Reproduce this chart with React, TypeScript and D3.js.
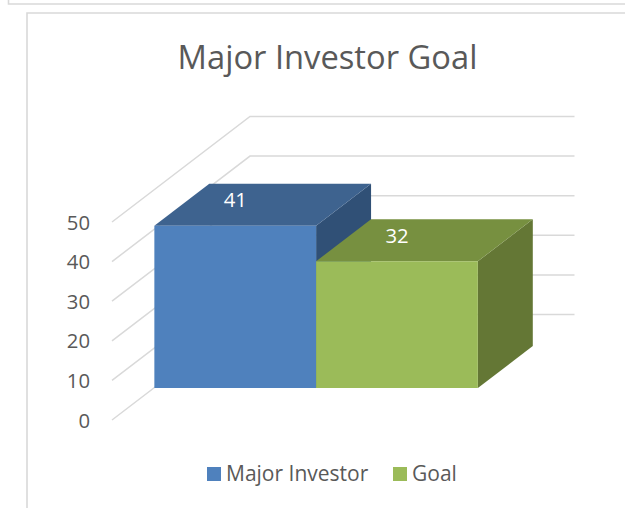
import React from "react";
import * as d3 from "d3";

const title = "Major Investor Goal";
const seriesNames = ["Major Investor", "Goal"];
const seriesValues = [41, 32];
const frontColors = ["#4f81bd", "#9bbb59"];
const topColors = ["#3e638f", "#779040"];
const sideColors = ["#305076", "#647735"];
const yTicks = [0, 10, 20, 30, 40, 50];

const FONT = "'Open Sans', sans-serif";
const TEXT = "#595959";
const GRID = "#d9d9d9";

// value axis
const yScale = d3.scaleLinear().domain([0, 50]).range([420, 222]);
// depth: 0 is the chart's front edge, 1 the back wall
const depthX = d3.scaleLinear().domain([0, 1]).range([0, 138]);
const depthY = d3.scaleLinear().domain([0, 1]).range([0, -105.5]);
const FRONT = 32 / 105.5; // depth of the bars' front face
const BACK = 74 / 105.5; // depth of the bars' back face
// category bands, on the front-edge plane
const xBand = d3.scaleBand<number>().domain([0, 1]).range([112.5, 436]);
const pt = (x: number, v: number, d: number): [number, number] => [
  x + depthX(d),
  yScale(v) + depthY(d),
];
const xLeftWall = 112;
const xRightEnd = 574.5;

const poly = (pts: [number, number][]) => pts.map((p) => p.join(",")).join(" ");

export default function App() {
  return (
    <svg
      width={625}
      height={508}
      style={{ position: "absolute", left: 0, top: 0, background: "#fff" }}
      fontFamily={FONT}
    >
      {/* surrounding frames */}
      <path d="M8.5,0V4H625" fill="none" stroke={GRID} strokeWidth={1.6} />
      <path d="M27,508V13H625" fill="none" stroke={GRID} strokeWidth={1.6} />

      <text x={327.5} y={69} textAnchor="middle" fontSize={32.7} fill={TEXT}>
        {title}
      </text>

      {/* gridlines on side wall and back wall */}
      {yTicks.map((t) => {
        const a = pt(xLeftWall, t, 0);
        const b = pt(xLeftWall, t, 1);
        return (
          <polyline
            key={t}
            points={poly([a, b, [xRightEnd, b[1]]])}
            fill="none"
            stroke={GRID}
            strokeWidth={1.5}
          />
        );
      })}
      {yTicks.map((t) => (
        <text
          key={t}
          x={90}
          y={pt(xLeftWall, t, 0)[1] + 7.5}
          textAnchor="end"
          fontSize={20.3}
          fill={TEXT}
        >
          {t}
        </text>
      ))}

      {/* bars */}
      {seriesValues.map((v, i) => {
        const x0 = xBand(i)!;
        const x1 = x0 + xBand.bandwidth();
        const ftl = pt(x0, v, FRONT);
        const ftr = pt(x1, v, FRONT);
        const fbr = pt(x1, 0, FRONT);
        const fbl = pt(x0, 0, FRONT);
        const btl = pt(x0, v, BACK);
        const btr = pt(x1, v, BACK);
        const bbr = pt(x1, 0, BACK);
        return (
          <g key={seriesNames[i]}>
            <polygon points={poly([ftr, btr, bbr, fbr])} fill={sideColors[i]} />
            <polygon points={poly([ftl, btl, btr, ftr])} fill={topColors[i]} />
            <polygon points={poly([ftl, ftr, fbr, fbl])} fill={frontColors[i]} />
          </g>
        );
      })}
      {seriesValues.map((v, i) => {
        const xc = xBand(i)! + xBand.bandwidth() / 2;
        const cx = pt(xc, v, FRONT)[0];
        const cy = pt(xc, v, (FRONT + BACK) / 2)[1];
        return (
          <text key={i} x={cx} y={cy + 2.3} textAnchor="middle" fontSize={20.3} fill="#fff">
            {v}
          </text>
        );
      })}

      {/* legend */}
      {seriesNames.map((n, i) => {
        const xs = [207, 393];
        return (
          <g key={n}>
            <rect x={xs[i]} y={467} width={14} height={14} fill={frontColors[i]} />
            <text x={xs[i] + 19} y={481} fontSize={21} fill={TEXT}>
              {n}
            </text>
          </g>
        );
      })}
    </svg>
  );
}
